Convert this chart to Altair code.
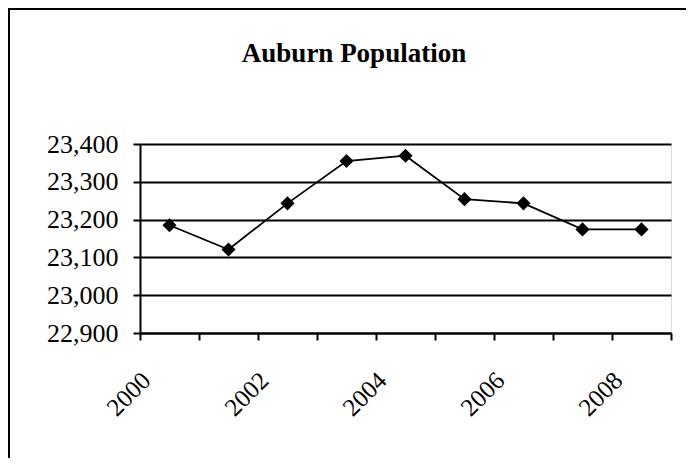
import altair as alt
import pandas as pd

title_text = ["Auburn Population"]
years = [2000, 2001, 2002, 2003, 2004, 2005, 2006, 2007, 2008]
population = [23185, 23121, 23243, 23355, 23369, 23254, 23243, 23174, 23174]
y_ticks = [22900, 23000, 23100, 23200, 23300, 23400]
x_ticks = [2000, 2001, 2002, 2003, 2004, 2005, 2006, 2007, 2008, 2009]

df = pd.DataFrame({"year": years, "population": population})
title_df = pd.DataFrame({"t": title_text})

FONT = "'Liberation Serif', 'Times New Roman', Times, serif"

xenc = alt.X(
    "xpos:Q",
    scale=alt.Scale(domain=[2000, 2009], nice=False, zero=False),
    axis=alt.Axis(
        values=x_ticks,
        labelExpr="(datum.value % 2 == 0 && datum.value < 2009) ? datum.value : ''",
        title=None,
        grid=False,
        domainColor="black",
        domainWidth=2,
        tickColor="black",
        tickWidth=2,
        tickSize=7,
        labelAngle=-45,
        labelAlign="right",
        labelBaseline="middle",
        labelPadding=36,
        labelOffset=6,
        labelFont=FONT,
        labelFontSize=25,
        labelColor="black",
        labelOverlap=False,
    ),
)
yenc = alt.Y(
    "population:Q",
    scale=alt.Scale(domain=[22900, 23400], nice=False, zero=False),
    axis=alt.Axis(
        values=y_ticks,
        format=",.0f",
        title=None,
        grid=True,
        gridColor="black",
        gridWidth=1.8,
        domainColor="black",
        domainWidth=2,
        tickColor="black",
        tickWidth=2,
        tickSize=7,
        labelPadding=15,
        labelFont=FONT,
        labelFontSize=26,
        labelColor="black",
    ),
)

base = alt.Chart(df).transform_calculate(xpos="datum.year + 0.5")

line = base.mark_line(color="black", strokeWidth=1.8).encode(x=xenc, y=yenc)
points = base.mark_point(
    shape="diamond", filled=True, color="black", size=200, opacity=1
).encode(x=xenc, y=yenc)

frame = alt.Chart(title_df).mark_rect(
    fill=None, stroke="black", strokeWidth=2, clip=False
).encode(
    x=alt.value(-131), x2=alt.value(800), y=alt.value(-135), y2=alt.value(600)
)

title = alt.Chart(title_df).mark_text(
    font=FONT,
    fontSize=27,
    fontWeight="bold",
    color="black",
    align="center",
    baseline="alphabetic",
    clip=False,
).encode(text="t:N", x=alt.value(214), y=alt.value(-82))

chart = (
    alt.layer(frame, line, points, title)
    .properties(
        width=531,
        height=189,
        autosize=alt.AutoSizeParams(type="none"),
        padding={"left": 132, "top": 136, "right": 15, "bottom": 125},
    )
    .configure_view(stroke="#8c8c8c", strokeWidth=2)
    .configure(background="white")
)

chart.save("out.html", embed_options={"renderer": "svg", "actions": False})
